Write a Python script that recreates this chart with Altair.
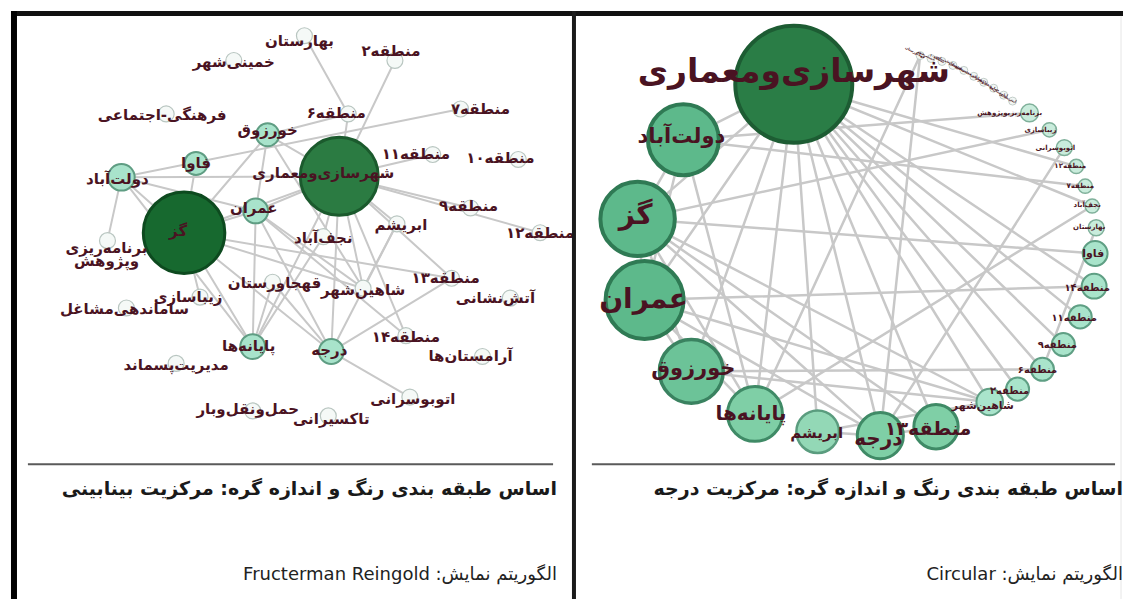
import math
import altair as alt
import pandas as pd

# ---------------- data ----------------
ZW = "\u200c"
NAMES = [
    "شهرسازی" + ZW + "ومعماری", "گز", "دولت" + ZW + "آباد", "عمران", "خورزوق",
    "پایانه" + ZW + "ها", "درجه", "فاوا", "ابریشم", "منطقه۱۳",
    "شاهین" + ZW + "شهر", "منطقه۲", "منطقه۶", "منطقه۹", "منطقه۱۱",
    "منطقه۱۴", "بهارستان", "نجف" + ZW + "آباد", "منطقه۷", "منطقه۱۲",
    "اتوبوسرانی", "زیباسازی", "برنامه" + ZW + "ریزی\nوپژوهش", "آتش" + ZW + "نشانی", "آرامستان" + ZW + "ها",
    "حمل" + ZW + "ونقل" + ZW + "وبار", "تاکسیرانی", "ساماندهی" + ZW + "مشاغل", "مدیریت" + ZW + "پسماند", "فرهنگی-اجتماعی",
    "منطقه۱۰", "خمینی" + ZW + "شهر", "قهجاورستان",
]

# left panel: Fruchterman Reingold layout, betweenness centrality classes
LEFT_X = [338, 182, 119, 254, 266, 251, 330, 194, 396, 451, 362, 394, 347, 470, 432,
          405, 303, 322, 460, 540, 409, 198, 105, 510, 482, 251, 327, 124, 174, 164,
          518, 232, 271]
LEFT_Y = [175, 232, 176, 210, 133, 347, 352, 162, 223, 278, 288, 58, 112, 207, 153,
          336, 33, 236, 107, 232, 398, 297, 240, 298, 357, 412, 417, 308, 364, 112,
          158, 58, 282]
LEFT_R = [44, 46, 15, 14, 13, 14, 14, 13] + [9] * 25
LEFT_CLASS = ["hubB", "hubA"] + ["mid"] * 6 + ["small"] * 25
LEFT_LX = [322, 176, 115, 252, 266, 247, 328, 194, 400, 445, 362, 390, 335, 468, 415,
           405, 298, 322, 480, 540, 412, 186, 104, 495, 470, 246, 330, 122, 174, 160,
           500, 232, 273]
LEFT_LY = [172, 230, 178, 207, 128, 346, 350, 162, 224, 278, 290, 48, 111, 205, 152,
           337, 38, 237, 107, 232, 400, 297, 247, 298, 357, 410, 420, 309, 366, 113,
           157, 60, 283]

# right panel: circular layout, degree centrality classes
RIGHT_X = [795, 638, 684, 645, 692, 756, 882, 1098, 819, 938, 992, 1020, 1045, 1066, 1083,
           1097, 1099, 1095, 1088, 1079, 1067, 1052, 1032, 1015, 1006, 996, 986, 976, 966, 955,
           944, 933, 922]
RIGHT_Y = [82, 218, 138, 300, 372, 415, 437, 253, 433, 428, 403, 390, 370, 345, 317,
           286, 227, 205, 185, 165, 146, 128, 111, 99, 93, 86, 80, 74, 68, 63,
           59, 56, 53]
RIGHT_R = [66, 42, 40, 44, 36, 31, 26, 14, 24, 25, 15, 13, 13, 13, 13,
           14, 9, 8, 8, 8, 9, 8, 10] + [4.5] * 10
RIGHT_CLASS = ["hub", "large", "large", "large", "large2", "med", "med", "small", "med2", "med",
               "small", "small", "small", "small", "small", "small"] + ["xs"] * 7 + ["tiny"] * 10
RIGHT_LX = [795, 636, 682, 644, 694, 752, 880, 1096, 818, 930, 985, 1012, 1040, 1060, 1077,
            1090, 1092, 1090, 1083, 1073, 1058, 1043, 1012, 1010, 1001, 991, 981, 971, 961, 950,
            939, 928, 917]
RIGHT_LY = [70, 215, 135, 300, 370, 415, 440, 253, 434, 430, 407, 392, 371, 345, 318,
            288, 226, 204, 185, 165, 146, 128, 111, 96, 90, 83, 77, 71, 65, 60,
            56, 53, 50]
RIGHT_FS = [33, 28, 21, 28, 21, 20, 20, 11, 15, 19, 11, 10, 10, 10, 10,
            10, 7, 7, 7, 7, 7, 7, 7] + [3.5] * 10

EDGE_A = [0, 0, 0, 0, 0, 0, 0, 0, 0, 0, 0, 0, 0, 0, 0, 0,
          2, 2, 2, 2, 2,
          1, 1, 1, 1, 1, 1, 1, 1,
          3, 3, 3, 3, 3,
          4, 4, 5, 5, 6, 6, 6, 10, 16, 6]
EDGE_B = [2, 1, 3, 4, 5, 8, 6, 9, 10, 11, 12, 13, 14, 15, 19, 17,
          1, 3, 22, 18, 5,
          7, 3, 4, 5, 6, 10, 21, 9,
          15, 5, 6, 4, 10,
          10, 12, 17, 32, 20, 9, 8, 8, 12, 32]

TITLE_LEFT = "اساس طبقه بندی رنگ و اندازه گره: مرکزیت بینابینی"
TITLE_RIGHT = "اساس طبقه بندی رنگ و اندازه گره: مرکزیت درجه"
ALGO_LEFT = "\u202bالگوریتم نمایش: Fructerman Reingold\u202c"
ALGO_RIGHT = "\u202bالگوریتم نمایش: Circular\u202c"

# ---------------- styles ----------------
FILL = {
    "hubA": "#17692f", "hubB": "#2b7b42", "mid": "#a8e3cb", "small": "#f5f9f7",
    "hub": "#2a7d46", "large": "#5db98b", "large2": "#6cc398", "med": "#7fcfa6",
    "med2": "#93d8b6", "xs": "#c9ecdc", "tiny": "#f2f7f5",
}
FILL_R = dict(FILL, small="#a9e4cb")
STROKE = {
    "hubA": "#0d4a1f", "hubB": "#1b5a2d", "mid": "#5f9d83", "small": "#b9c6c1",
    "hub": "#1d5c33", "large": "#2f7a54", "large2": "#3a8260", "med": "#3f8a66",
    "med2": "#5a9c7e", "xs": "#7fb09a", "tiny": "#b5c1bc",
}
STROKE_R = dict(STROKE, small="#5f9f84")
SW = {"hubA": 3, "hubB": 3, "mid": 2, "small": 1.2, "hub": 4, "large": 4, "large2": 3.5,
      "med": 3, "med2": 2.5, "xs": 1.5, "tiny": 0.8}
SW_R = dict(SW, small=2)
LABEL_COLOR = "#4a1322"

nodes = []
labels = []
tiny_labels = []
for i, n in enumerate(NAMES):
    c = LEFT_CLASS[i]
    nodes.append(dict(x=LEFT_X[i], y=LEFT_Y[i], area=math.pi * LEFT_R[i] ** 2,
                      fill=FILL[c], stroke=STROKE[c], sw=SW[c], order=LEFT_R[i]))
    labels.append(dict(x=LEFT_LX[i], y=LEFT_LY[i], label=n, fs=15))
for i, n in enumerate(NAMES):
    c = RIGHT_CLASS[i]
    nodes.append(dict(x=RIGHT_X[i], y=RIGHT_Y[i], area=math.pi * RIGHT_R[i] ** 2,
                      fill=FILL_R[c], stroke=STROKE_R[c], sw=SW_R[c], order=RIGHT_R[i]))
    row = dict(x=RIGHT_LX[i], y=RIGHT_LY[i], label=n.replace("\n", ""), fs=RIGHT_FS[i])
    (tiny_labels if c == "tiny" else labels).append(row)
nodes_df = pd.DataFrame(nodes).sort_values("order")
labels_df = pd.DataFrame(labels)
tiny_df = pd.DataFrame(tiny_labels)

edges = []
for a, b in zip(EDGE_A, EDGE_B):
    edges.append(dict(x=LEFT_X[a], y=LEFT_Y[a], x2=LEFT_X[b], y2=LEFT_Y[b], w=2))
    edges.append(dict(x=RIGHT_X[a], y=RIGHT_Y[a], x2=RIGHT_X[b], y2=RIGHT_Y[b], w=2.5))
edges_df = pd.DataFrame(edges)

frame_df = pd.DataFrame([
    dict(x=8, y=10.5, x2=1126, y2=10.5, w=5, c="#111111"),
    dict(x=11, y=8, x2=11, y2=602, w=6, c="#000000"),
    dict(x=574, y=8, x2=574, y2=602, w=4, c="#1a1a1a"),
    dict(x=1124, y=13, x2=1124, y2=602, w=1, c="#e6e6e6"),
    dict(x=25, y=466, x2=553, y2=466, w=2, c="#5a5a5a"),
    dict(x=592, y=466, x2=1118, y2=466, w=2, c="#5a5a5a"),
])

titles_df = pd.DataFrame([
    dict(x=557, y=491, t=TITLE_LEFT),
    dict(x=1126, y=491, t=TITLE_RIGHT),
])
algo_df = pd.DataFrame([
    dict(x=557, y=578, t=ALGO_LEFT),
    dict(x=1126, y=578, t=ALGO_RIGHT),
])

# ---------------- chart ----------------
XS = alt.Scale(domain=[8, 1126], nice=False, zero=False)
YS = alt.Scale(domain=[8, 602], nice=False, zero=False, reverse=True)


def X(f="x"):
    return alt.X(f"{f}:Q", scale=XS, axis=None)


def Y(f="y"):
    return alt.Y(f"{f}:Q", scale=YS, axis=None)


edge_layer = alt.Chart(edges_df).mark_rule(color="#c8c8c8", strokeCap="round").encode(
    x=X(), y=Y(), x2="x2:Q", y2="y2:Q", strokeWidth=alt.StrokeWidth("w:Q", scale=None)
)
node_layer = alt.Chart(nodes_df).mark_circle(opacity=1, strokeOpacity=1).encode(
    x=X(), y=Y(),
    size=alt.Size("area:Q", scale=None),
    color=alt.Color("fill:N", scale=None),
    stroke=alt.Stroke("stroke:N", scale=None),
    strokeWidth=alt.StrokeWidth("sw:Q", scale=None),
    order=alt.Order("order:Q"),
)
label_layer = alt.Chart(labels_df).mark_text(
    font="DejaVu Sans", fontWeight="bold", align="center", baseline="middle",
    lineBreak="\n", lineHeight=13, color=LABEL_COLOR,
).encode(x=X(), y=Y(), text="label:N", size=alt.Size("fs:Q", scale=None))
tiny_layer = alt.Chart(tiny_df).mark_text(
    font="DejaVu Sans", fontWeight="bold", align="center", baseline="middle",
    angle=28, color=LABEL_COLOR,
).encode(x=X(), y=Y(), text="label:N", size=alt.Size("fs:Q", scale=None))

frame_layer = alt.Chart(frame_df).mark_rule().encode(
    x=X(), y=Y(), x2="x2:Q", y2="y2:Q",
    color=alt.Color("c:N", scale=None), strokeWidth=alt.StrokeWidth("w:Q", scale=None)
)
title_layer = alt.Chart(titles_df).mark_text(
    font="DejaVu Sans", fontWeight="bold", fontSize=19, align="right", baseline="middle",
    color="#1a1a1a",
).encode(x=X(), y=Y(), text="t:N")
algo_layer = alt.Chart(algo_df).mark_text(
    font="DejaVu Sans", fontSize=18, align="right", baseline="middle", color="#222222",
).encode(x=X(), y=Y(), text="t:N")

chart = alt.layer(
    edge_layer, node_layer, label_layer, tiny_layer, frame_layer, title_layer, algo_layer
).properties(
    width=1118, height=594, padding=0, background="white",
    autosize=alt.AutoSizeParams(type="fit", contains="padding"),
).configure_view(stroke=None)

chart.save("out.html", embed_options={"renderer": "svg", "actions": False})
